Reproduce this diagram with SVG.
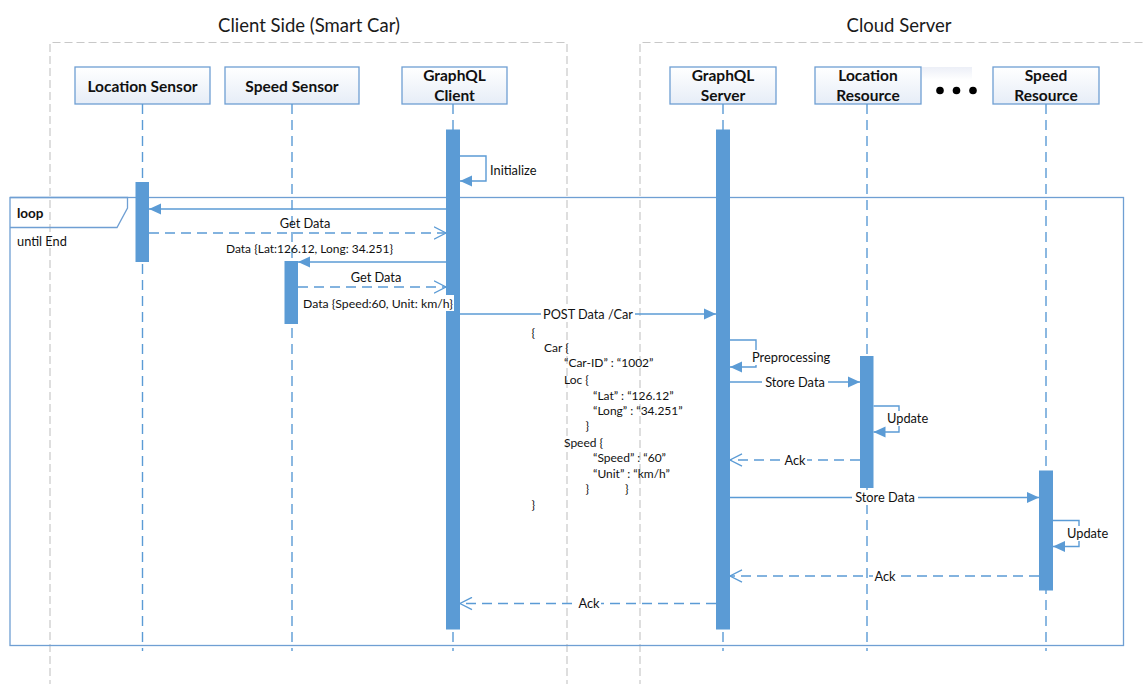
<svg xmlns="http://www.w3.org/2000/svg" width="1145" height="684" viewBox="0 0 1145 684">
<defs>
  <linearGradient id="hdr" x1="0" y1="0" x2="0" y2="1">
    <stop offset="0" stop-color="#ffffff"/>
    <stop offset="1" stop-color="#e6edf7"/>
  </linearGradient>
  <linearGradient id="dotbg" x1="0" y1="0" x2="0" y2="1">
    <stop offset="0" stop-color="#eceff7"/>
    <stop offset="1" stop-color="#ffffff"/>
  </linearGradient>
  <marker id="fa" markerUnits="userSpaceOnUse" markerWidth="13" markerHeight="12" refX="12" refY="6" orient="auto">
    <path d="M0,0.5 L12,6 L0,11.5 z" fill="#5b9bd5"/>
  </marker>
  <marker id="oa" markerUnits="userSpaceOnUse" markerWidth="14" markerHeight="14" refX="12.5" refY="7" orient="auto">
    <path d="M0.5,0.8 L12.5,7 L0.5,13.2" fill="none" stroke="#5b9bd5" stroke-width="1.3"/>
  </marker>
</defs>
<style>
  .grp{fill:none;stroke:#c8c8c8;stroke-width:1.2;stroke-dasharray:8 4}
  .title{font-family:Lato,"Liberation Sans",sans-serif;font-size:18.5px;fill:#1a1a1a;text-anchor:middle}
  .hbox{fill:url(#hdr);stroke:#6f9fd3;stroke-width:1.3}
  .htxt{font-family:Lato,"Liberation Sans",sans-serif;font-weight:bold;font-size:15.5px;fill:#111;text-anchor:middle}
  .life{stroke:#5b9bd5;stroke-width:1.4;stroke-dasharray:10 6;fill:none}
  .bar{fill:#5b9bd5}
  .frame{fill:none;stroke:#6f9fd3;stroke-width:1.3}
  .msg{stroke:#5b9bd5;stroke-width:1.4;fill:none}
  .ret{stroke:#5b9bd5;stroke-width:1.4;fill:none;stroke-dasharray:10 6}
  .lbl{font-family:Lato,"Liberation Sans",sans-serif;font-size:12.8px;fill:#111}
  .sm{font-family:Lato,"Liberation Sans",sans-serif;font-size:12px;fill:#111}
  .mid{text-anchor:middle}
  .bg{fill:#ffffff}
</style>

<g id="groups">
  <text class="title" x="309" y="32">Client Side (Smart Car)</text>
  <path class="grp" d="M50,700 V42.5 H567 V700"/>
  <text class="title" x="899" y="32">Cloud Server</text>
  <path class="grp" d="M640,700 V42.5 H1150"/>
</g>

<g id="loop-frame">
  <rect class="frame" x="10" y="197.5" width="1113.5" height="448"/>
  <path class="frame" d="M10,197.5 H127.5 V208 L117,227.5 H10"/>
  <text x="17" y="218" style="font-family:Lato,'Liberation Sans',sans-serif;font-weight:bold;font-size:13.5px;fill:#111">loop</text>
  <text class="lbl" x="17" y="246">until End</text>
</g>

<g id="location-sensor">
  <rect class="hbox" x="75" y="67" width="135" height="37"/>
  <text class="htxt" x="142.5" y="91.5">Location Sensor</text>
  <line class="life" x1="142.5" y1="104" x2="142.5" y2="651"/>
  <rect class="bar" x="135.5" y="182" width="13.5" height="80"/>
</g>

<g id="speed-sensor">
  <rect class="hbox" x="225" y="67" width="134" height="37"/>
  <text class="htxt" x="292" y="91.5">Speed Sensor</text>
  <line class="life" x1="292" y1="104" x2="292" y2="651"/>
  <rect class="bar" x="284.5" y="261" width="13.5" height="63"/>
</g>

<g id="graphql-client">
  <rect class="hbox" x="402" y="67" width="105" height="37"/>
  <text class="htxt" x="454.5" y="80.5">GraphQL</text>
  <text class="htxt" x="454.5" y="101">Client</text>
  <line class="life" x1="453" y1="104" x2="453" y2="651"/>
  <rect class="bar" x="446" y="129.5" width="14" height="500"/>
</g>

<g id="graphql-server">
  <rect class="hbox" x="670" y="67" width="106" height="37"/>
  <text class="htxt" x="723" y="80.5">GraphQL</text>
  <text class="htxt" x="723" y="101">Server</text>
  <line class="life" x1="723" y1="104" x2="723" y2="651"/>
  <rect class="bar" x="716" y="129.5" width="14" height="500"/>
</g>

<g id="location-resource">
  <rect class="hbox" x="815" y="67" width="106" height="37"/>
  <text class="htxt" x="868" y="80.5">Location</text>
  <text class="htxt" x="868" y="101">Resource</text>
  <line class="life" x1="867" y1="104" x2="867" y2="651"/>
  <rect class="bar" x="860" y="356" width="13.5" height="132"/>
</g>

<g id="ellipsis">
  <rect x="922" y="67" width="50" height="13" fill="url(#dotbg)"/>
  <circle cx="940" cy="90.5" r="3.8" fill="#000"/>
  <circle cx="956.5" cy="90.5" r="3.8" fill="#000"/>
  <circle cx="973" cy="90.5" r="3.8" fill="#000"/>
</g>

<g id="speed-resource">
  <rect class="hbox" x="993" y="67" width="106" height="37"/>
  <text class="htxt" x="1046" y="80.5">Speed</text>
  <text class="htxt" x="1046" y="101">Resource</text>
  <line class="life" x1="1046" y1="104" x2="1046" y2="651"/>
  <rect class="bar" x="1039" y="470.5" width="14" height="120"/>
</g>

<g id="connectors">
  <path class="msg" d="M460,156 H486 V181 H460" marker-end="url(#fa)"/>
  <text class="lbl" x="490" y="175">Initialize</text>

  <path class="msg" d="M446,209 H149" marker-end="url(#fa)"/>
  <text class="lbl mid" x="305" y="227.5">Get Data</text>
  <path class="ret" d="M149,233 H446" marker-end="url(#oa)"/>
  <text class="sm" x="226" y="253" textLength="167" lengthAdjust="spacingAndGlyphs">Data {Lat:126.12, Long: 34.251}</text>

  <path class="msg" d="M446,262 H298" marker-end="url(#fa)"/>
  <text class="lbl mid" x="376" y="281.5">Get Data</text>
  <path class="ret" d="M298,287 H446" marker-end="url(#oa)"/>
  <rect class="bg" x="301" y="295" width="153" height="16"/>
  <text class="sm" x="303" y="307.5" textLength="150" lengthAdjust="spacingAndGlyphs">Data {Speed:60, Unit: km/h}</text>

  <path class="msg" d="M460,314 H716" marker-end="url(#fa)"/>
  <rect class="bg" x="541" y="306" width="94" height="16"/>
  <text class="lbl" x="543" y="318.5" textLength="90" lengthAdjust="spacingAndGlyphs">POST Data /Car</text>

  <g class="sm">
    <text x="531.5" y="337">{</text>
    <text x="544" y="351.5">Car {</text>
    <text x="564" y="367">“Car-ID” : “1002”</text>
    <text x="564" y="383.5">Loc {</text>
    <text x="593" y="400">“Lat” : “126.12”</text>
    <text x="593" y="415">“Long” : “34.251”</text>
    <text x="585.5" y="430">}</text>
    <text x="564" y="446.5">Speed {</text>
    <text x="593" y="462">“Speed” : “60”</text>
    <text x="593" y="477.5">“Unit” : “km/h”</text>
    <text x="585.5" y="493">}</text>
    <text x="625" y="493">}</text>
    <text x="531.5" y="509">}</text>
  </g>

  <path class="msg" d="M730,340 H756 V367 H730" marker-end="url(#fa)"/>
  <rect class="bg" x="751" y="350" width="86" height="15"/>
  <text class="lbl" x="752" y="362">Preprocessing</text>

  <path class="msg" d="M730,382 H860" marker-end="url(#fa)"/>
  <rect class="bg" x="762" y="375" width="66" height="15"/>
  <text class="lbl mid" x="795" y="386.5">Store Data</text>

  <path class="msg" d="M873.5,406 H899 V432 H873.5" marker-end="url(#fa)"/>
  <rect class="bg" x="886" y="411" width="46" height="15"/>
  <text class="lbl" x="887" y="422.5">Update</text>

  <path class="ret" d="M860,460 H730" marker-end="url(#oa)"/>
  <rect class="bg" x="783" y="453" width="24" height="15"/>
  <text class="lbl mid" x="795" y="465">Ack</text>

  <path class="msg" d="M730,497.5 H1039" marker-end="url(#fa)"/>
  <rect class="bg" x="852" y="490" width="66" height="15"/>
  <text class="lbl mid" x="885" y="502">Store Data</text>

  <path class="msg" d="M1053,520.5 H1079 V546.5 H1053" marker-end="url(#fa)"/>
  <rect class="bg" x="1066" y="526" width="46" height="15"/>
  <text class="lbl" x="1067" y="537.5">Update</text>

  <path class="ret" d="M1039,576 H730" marker-end="url(#oa)"/>
  <rect class="bg" x="873" y="569" width="24" height="15"/>
  <text class="lbl mid" x="885" y="581">Ack</text>

  <path class="ret" d="M716,603.5 H460" marker-end="url(#oa)"/>
  <rect class="bg" x="577" y="596" width="24" height="15"/>
  <text class="lbl mid" x="589" y="608">Ack</text>
</g>
</svg>
